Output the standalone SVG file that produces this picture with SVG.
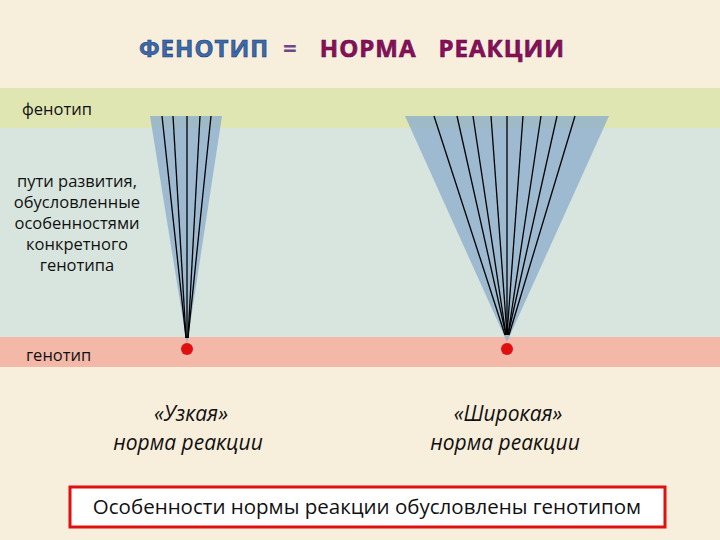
<svg xmlns="http://www.w3.org/2000/svg" width="720" height="540" viewBox="0 0 720 540">
<style>
.t{font-family:"Open Sans","Liberation Sans",sans-serif;fill:#111}
.cone{fill:#8fafcc;opacity:0.8}
.ray{stroke:#000;stroke-width:1.3}
.dot{fill:#e01010}
</style>
<rect width="720" height="540" fill="#f7eedb"/>
<rect x="0" y="88" width="720" height="40" fill="#dfe6b2"/>
<rect x="0" y="128" width="720" height="209" fill="#d8e5de"/>
<rect x="0" y="337" width="720" height="30" fill="#f4b8a8"/>
<text x="352" y="57" text-anchor="middle" font-family="'Open Sans','Liberation Sans',sans-serif" font-weight="bold" font-size="24" letter-spacing="1"><tspan fill="#3d6aa8" stroke="#1a3a7a" stroke-width="0.6">ФЕНОТИП</tspan><tspan fill="#6a4a8a" dx="14">=</tspan><tspan fill="#8a1050" stroke="#5a0a60" stroke-width="0.6" dx="22">НОРМА</tspan><tspan fill="#8a1050" stroke="#5a0a60" stroke-width="0.6" dx="22">РЕАКЦИИ</tspan></text>
<g id="labels">
<text class="t" x="22" y="115" font-size="16.5">фенотип</text>
<text class="t" x="77" y="187" font-size="16.5" text-anchor="middle">пути развития,</text>
<text class="t" x="77" y="208" font-size="16.5" text-anchor="middle">обусловленные</text>
<text class="t" x="77" y="229" font-size="16.5" text-anchor="middle">особенностями</text>
<text class="t" x="77" y="250" font-size="16.5" text-anchor="middle">конкретного</text>
<text class="t" x="77" y="271" font-size="16.5" text-anchor="middle">генотипа</text>
<text class="t" x="26" y="361" font-size="16.5">генотип</text>
</g>
<g id="narrow">
<polygon class="cone" points="150,116 222,116 187,345"/>
<g class="ray"><line x1="162" y1="116" x2="186" y2="338"/><line x1="173" y1="116" x2="186" y2="338"/><line x1="187" y1="116" x2="187" y2="338"/><line x1="200" y1="116" x2="188" y2="338"/><line x1="211" y1="116" x2="188" y2="338"/></g>
<circle class="dot" cx="187" cy="349" r="6"/>
<text class="t" x="191" y="421" font-size="21" font-style="italic" text-anchor="middle">«Узкая»</text>
<text class="t" x="188" y="450" font-size="21" font-style="italic" text-anchor="middle">норма реакции</text>
</g>
<g id="wide">
<polygon class="cone" points="405,116 609,116 507,342"/>
<g class="ray"><line x1="434" y1="116" x2="505" y2="335"/><line x1="457" y1="116" x2="506" y2="335"/><line x1="473" y1="116" x2="506" y2="335"/><line x1="491" y1="116" x2="507" y2="335"/><line x1="507" y1="116" x2="507" y2="335"/><line x1="523" y1="116" x2="507" y2="335"/><line x1="541" y1="116" x2="508" y2="335"/><line x1="557" y1="116" x2="508" y2="335"/><line x1="575" y1="116" x2="509" y2="335"/></g>
<circle class="dot" cx="507" cy="349" r="6"/>
<text class="t" x="508" y="421" font-size="21" font-style="italic" text-anchor="middle">«Широкая»</text>
<text class="t" x="505" y="450" font-size="21" font-style="italic" text-anchor="middle">норма реакции</text>
</g>
<g id="note">
<rect x="70" y="487" width="595" height="40" fill="#fff" stroke="#e01010" stroke-width="3"/>
<text class="t" x="367" y="514" font-size="20.5" text-anchor="middle">Особенности нормы реакции обусловлены  генотипом</text>
</g>
</svg>
